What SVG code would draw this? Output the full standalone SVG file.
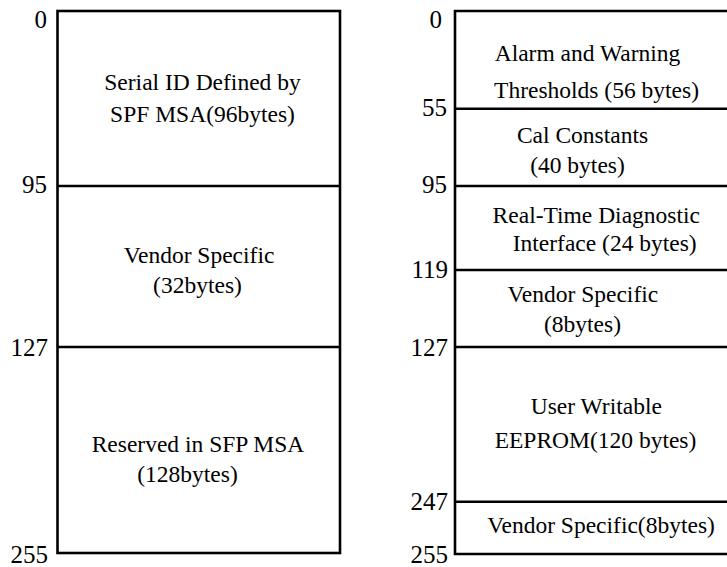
<svg xmlns="http://www.w3.org/2000/svg" width="727" height="567" viewBox="0 0 727 567">
<style>
.ln{stroke:#000;stroke-width:2.6;fill:none}
.t{font-family:'Liberation Serif','Times New Roman',serif;font-size:23.5px;fill:#000;text-anchor:middle}
.n{font-family:'Liberation Serif','Times New Roman',serif;font-size:25px;fill:#000;text-anchor:end}
</style>
<rect width="727" height="567" fill="#fff"/>
<g id="left-map">
<rect class="ln" x="57.5" y="11" width="282.5" height="542"/>
<line class="ln" x1="57.5" y1="186" x2="340" y2="186"/>
<line class="ln" x1="57.5" y1="347" x2="340" y2="347"/>
</g>
<g id="left-labels">
<text class="n" x="47" y="28">0</text>
<text class="n" x="47" y="193">95</text>
<text class="n" x="48" y="356">127</text>
<text class="n" x="48" y="563">255</text>
</g>
<g id="l-serial"><text class="t" x="202.5" y="90">Serial ID Defined by</text><text class="t" x="202.5" y="122">SPF MSA(96bytes)</text></g>
<g id="l-vendor"><text class="t" x="199" y="263">Vendor Specific</text><text class="t" x="197.5" y="293">(32bytes)</text></g>
<g id="l-reserved"><text class="t" x="198" y="452">Reserved in SFP MSA</text><text class="t" x="187.5" y="482">(128bytes)</text></g>
<g id="right-map">
<path class="ln" d="M727 11 H455 V554 H727"/>
<line class="ln" x1="455" y1="108.7" x2="727" y2="108.7"/>
<line class="ln" x1="455" y1="186" x2="727" y2="186"/>
<line class="ln" x1="455" y1="270" x2="727" y2="270"/>
<line class="ln" x1="455" y1="347" x2="727" y2="347"/>
<line class="ln" x1="455" y1="501.7" x2="727" y2="501.7"/>
</g>
<g id="right-labels">
<text class="n" x="442" y="28">0</text>
<text class="n" x="447" y="116">55</text>
<text class="n" x="447" y="193">95</text>
<text class="n" x="448" y="278">119</text>
<text class="n" x="448" y="356">127</text>
<text class="n" x="448" y="510">247</text>
<text class="n" x="448" y="563">255</text>
</g>
<g id="r-alarm"><text class="t" x="587.5" y="61">Alarm and Warning</text><text class="t" x="596.5" y="98">Thresholds (56 bytes)</text></g>
<g id="r-cal"><text class="t" x="582.5" y="143">Cal Constants</text><text class="t" x="577.5" y="173">(40 bytes)</text></g>
<g id="r-rtd"><text class="t" x="596.3" y="223">Real-Time Diagnostic</text><text class="t" x="604.7" y="251">Interface (24 bytes)</text></g>
<g id="r-vendor"><text class="t" x="582.8" y="302">Vendor Specific</text><text class="t" x="582.5" y="332">(8bytes)</text></g>
<g id="r-user"><text class="t" x="596.3" y="414">User Writable</text><text class="t" x="595.5" y="448">EEPROM(120 bytes)</text></g>
<g id="r-vendor2"><text class="t" x="601" y="533">Vendor Specific(8bytes)</text></g>
</svg>
